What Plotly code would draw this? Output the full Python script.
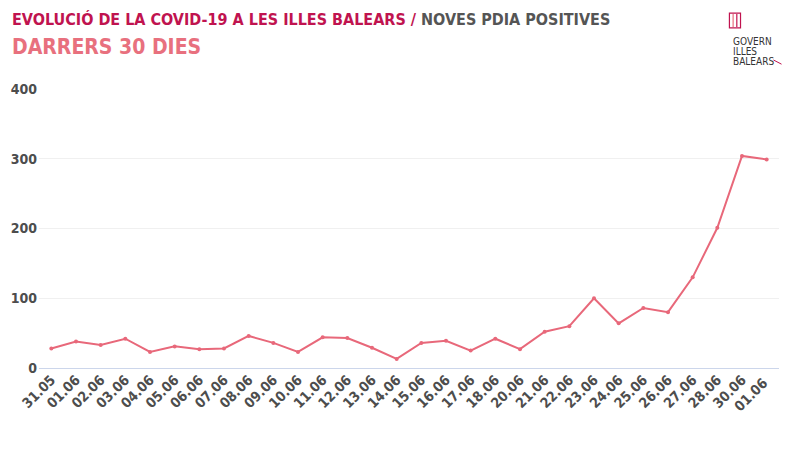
import plotly.graph_objects as go

# Dates (dd.mm) and new positive PDIA tests
dates = ['31.05', '01.06', '02.06', '03.06', '04.06', '05.06', '06.06', '07.06',
         '08.06', '09.06', '10.06', '11.06', '12.06', '13.06', '14.06', '15.06',
         '16.06', '17.06', '18.06', '20.06', '21.06', '22.06', '23.06', '24.06',
         '25.06', '26.06', '27.06', '28.06', '30.06', '01.06 ']
positives = [28, 38, 33, 42, 23, 31, 27, 28, 46, 36, 23, 44, 43, 29, 13, 36,
             39, 25, 42, 27, 52, 60, 100, 64, 86, 80, 130, 201, 304, 299]
y_ticks = [0, 100, 200, 300, 400]
logo_lines = ['GOVERN', 'ILLES', 'BALEARS']

LINE = '#e8687a'
CRIMSON = '#c0134f'
FONT = 'DejaVu Sans Condensed'

fig = go.Figure()

fig.add_trace(go.Scatter(
    x=dates,
    y=positives,
    mode='lines+markers',
    line=dict(color=LINE, width=2),
    marker=dict(size=4, color=LINE),
    hovertemplate='%{x}: %{y}<extra></extra>',
    showlegend=False
))

fig.update_xaxes(
    type='category',
    range=[-0.5, len(dates) - 0.5],
    tickangle=-45,
    tickfont=dict(family=FONT, size=14, color='#4d4d4d', weight='bold'),
    showgrid=False,
    showline=False,
    ticks='',
    automargin=False
)

fig.update_yaxes(
    range=[0, 400],
    tickvals=y_ticks,
    tickfont=dict(family=FONT, size=14, color='#4d4d4d', weight='bold'),
    showgrid=True,
    gridcolor='#f0f0f0',
    gridwidth=1,
    zeroline=True,
    zerolinecolor='#ccd6eb',
    zerolinewidth=1,
    ticks='',
    ticklabelstandoff=1,
    automargin=False
)

annotations = [
    dict(
        text='<b><span style="color:#c0134f">EVOLUCIÓ DE LA COVID-19 A LES ILLES BALEARS /</span>'
             ' <span style="color:#555555">NOVES PDIA POSITIVES</span></b>',
        xref='paper', yref='paper', x=-0.039, y=1.248,
        xanchor='left', yanchor='middle', showarrow=False,
        font=dict(family=FONT, size=16)
    ),
    dict(
        text='<b>DARRERS 30 DIES</b>',
        xref='paper', yref='paper', x=-0.039, y=1.151,
        xanchor='left', yanchor='middle', showarrow=False,
        font=dict(family=FONT, size=21, color='#e8707e')
    ),
]
# logo text, one line per annotation to keep the tight line spacing
for i, word in enumerate(logo_lines):
    annotations.append(dict(
        text=word, xref='paper', yref='paper', x=0.935, y=1.172 - i * 0.037,
        xanchor='left', yanchor='middle', showarrow=False,
        font=dict(family=FONT, size=10, color='#333333')
    ))

# small logo emblem
shapes = [
    dict(type='rect', xref='paper', yref='paper',
         x0=0.933, x1=0.948, y0=1.219, y1=1.272,
         line=dict(color=CRIMSON, width=1.2), fillcolor='rgba(0,0,0,0)'),
    dict(type='line', xref='paper', yref='paper',
         x0=0.938, x1=0.938, y0=1.222, y1=1.269,
         line=dict(color='#e8707e', width=1.2)),
    dict(type='line', xref='paper', yref='paper',
         x0=0.943, x1=0.943, y0=1.222, y1=1.269,
         line=dict(color=CRIMSON, width=1.2)),
    dict(type='line', xref='paper', yref='paper',
         x0=0.9925, x1=1.0034, y0=1.104, y1=1.089,
         line=dict(color=CRIMSON, width=1)),
]

fig.update_layout(
    width=792,
    height=442,
    margin=dict(l=31, r=21, t=81, b=82),
    plot_bgcolor='white',
    paper_bgcolor='white',
    font=dict(family=FONT),
    annotations=annotations,
    shapes=shapes
)

fig.write_html('out.html')
